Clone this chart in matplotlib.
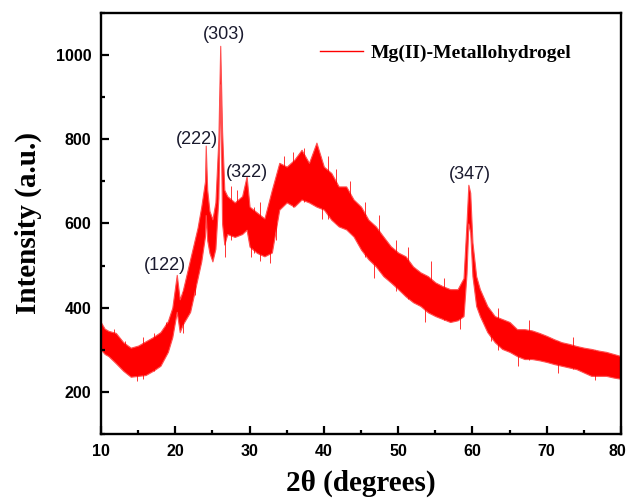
import matplotlib
matplotlib.use("Agg")
import matplotlib.pyplot as plt
from matplotlib.ticker import MultipleLocator

# XRD pattern: upper / lower edge of the noisy trace
two_theta = [10, 10.5, 11, 12, 13, 14, 15, 16, 17, 18, 19, 19.6, 20.2, 20.6, 21,
             22, 23, 23.5, 24.0, 24.1, 24.3, 24.6, 25.0, 25.4, 25.8, 26.05, 26.3,
             26.6, 27, 28, 29, 29.6, 30, 31, 32, 33, 34, 35, 36, 37, 38, 39, 40,
             41, 42, 43, 44, 45, 46, 47, 48, 49, 50, 51, 52, 53, 54, 55, 56, 57,
             58, 58.8, 59.2, 59.45, 59.7, 60, 60.5, 61, 62, 63, 64, 65, 66, 67,
             68, 69, 70, 71, 72, 73, 74, 75, 76, 77, 78, 79, 80]
upper = [365, 350, 345, 340, 318, 305, 310, 320, 330, 342, 368, 400, 478, 420, 440,
         515, 590, 640, 700, 785, 680, 630, 610, 650, 800, 1022, 820,
         680, 665, 650, 665, 712, 640, 626, 612, 680, 744, 735, 751, 775, 744, 792, 735,
         720, 688, 688, 657, 640, 609, 593, 569, 546, 531, 522, 498, 484, 475, 460, 451, 444,
         444, 470, 600, 692, 673, 555, 475, 444, 404, 380, 373, 366, 349, 349,
         346, 340, 333, 325, 318, 314, 309, 305, 302, 298, 295, 290, 285]
lower = [300, 290, 285, 268, 250, 236, 238, 240, 250, 262, 295, 330, 390, 342, 360,
         390, 470, 510, 570, 620, 560, 530, 510, 540, 660, 930, 600,
         550, 575, 568, 575, 585, 545, 530, 522, 531, 633, 650, 640, 657, 650, 640, 633,
         609, 593, 586, 569, 538, 515, 498, 475, 460, 444, 427, 413, 404, 389, 380, 373, 366,
         370, 380, 480, 600, 579, 475, 404, 380, 342, 318, 302, 295, 285, 278,
         278, 275, 271, 266, 262, 258, 254, 246, 238, 238, 238, 234, 231]

# single noise spikes that stick out of the band (position, bottom, top)
spike_x = [10.05, 11.7, 13.3, 14.8, 15.6, 17.2, 18.8, 21.0, 21.6, 22.6, 26.7, 27.5,
           28.3, 30.2, 30.6, 31.4, 32.8, 33.5, 34.6, 35.8, 37.3, 39.8, 40.6, 41.7,
           43.5, 45.6, 46.7, 47.4, 49.7, 51.3, 53.6, 54.4, 56.2, 58.3, 62.5, 63.5,
           66.1, 67.6, 71.5, 73.5, 76.5, 79.9]
spike_lo = [330, 300, 250, 225, 230, 250, 300, 340, 390, 430, 520, 560,
            580, 520, 530, 510, 505, 560, 650, 640, 650, 610, 610, 600,
            580, 520, 470, 490, 440, 420, 365, 390, 370, 350, 320, 300,
            262, 275, 245, 255, 228, 231]
spike_hi = [410, 350, 320, 300, 330, 340, 365, 440, 470, 530, 650, 690,
            680, 620, 640, 650, 600, 700, 760, 770, 780, 720, 760, 730,
            700, 650, 590, 620, 560, 545, 470, 510, 470, 440, 390, 400,
            340, 370, 320, 330, 300, 318]

peak_labels = ["(122)", "(222)", "(303)", "(322)", "(347)"]
label_x = [18.6, 22.9, 26.55, 29.6, 59.6]
label_y = [499, 800, 1050, 722, 716]

x_ticks = [10, 20, 30, 40, 50, 60, 70, 80]
y_ticks = [200, 400, 600, 800, 1000]

red = "#ff0000"
tick_font = dict(family="Liberation Sans", fontweight="bold", fontsize=11.5)

fig = plt.figure(figsize=(6.28, 4.99), dpi=100)
ax = fig.add_axes([0.1608, 0.1303, 0.8281, 0.8437])

ax.fill_between(two_theta, lower, upper, facecolor=red, edgecolor="#ff5050",
                linewidth=0.8)
ax.vlines(spike_x, spike_lo, spike_hi, color=red, linewidth=0.7, alpha=0.8)
ax.plot([], [], color=red, lw=1, label="Mg(II)-Metallohydrogel")

for t, x, y in zip(peak_labels, label_x, label_y):
    ax.text(x, y, t, ha="center", va="center", fontsize=13,
            family="Liberation Sans", color="#1a1a2e")

ax.set_xlim(10, 80)
ax.set_ylim(100, 1100)
ax.set_xticks(x_ticks)
# last label is drawn by hand a few pixels to the left so it stays in the picture
ax.set_xticklabels([str(v) for v in x_ticks[:-1]] + [""], **tick_font)
ax.set_yticks(y_ticks)
ax.set_yticklabels([str(v) for v in y_ticks], **tick_font)
ax.xaxis.set_minor_locator(MultipleLocator(5))
ax.yaxis.set_minor_locator(MultipleLocator(100))
ax.annotate(str(x_ticks[-1]), xy=(x_ticks[-1], 0),
            xycoords=ax.get_xaxis_transform(), xytext=(-2.5, -7),
            textcoords="offset points", ha="center", va="top", **tick_font)

ax.tick_params(which="both", direction="in", width=1.6, pad=7)
ax.tick_params(which="major", length=6)
ax.tick_params(which="minor", length=3)
for s in ax.spines.values():
    s.set_linewidth(1.7)

ax.set_xlabel("2θ (degrees)", family="Liberation Serif", fontweight="bold",
              fontsize=21, labelpad=8)
ax.set_ylabel("Intensity (a.u.)", family="Liberation Serif", fontweight="bold",
              fontsize=21, labelpad=10)

ax.legend(loc="center left", bbox_to_anchor=(0.421, 0.905), frameon=False,
          borderpad=0, borderaxespad=0, handlelength=2.2, handletextpad=0.4,
          prop={"family": "Liberation Serif", "weight": "bold", "size": 14})

fig.savefig("out.png", dpi=100)
